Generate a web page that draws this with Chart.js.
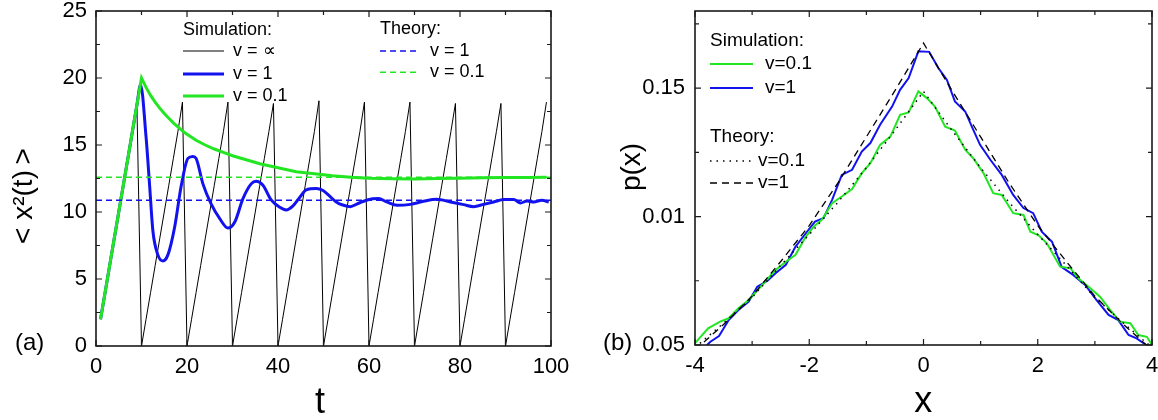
<!DOCTYPE html>
<html>
<head>
<meta charset="utf-8">
<script src="https://cdn.jsdelivr.net/npm/chart.js@4.4.1/dist/chart.umd.min.js"></script>
<style>
  html, body { margin: 0; padding: 0; background: #fff; }
  #wrap { position: relative; width: 1158px; height: 420px; overflow: hidden; }
  canvas { position: absolute; top: 0; }
  #left { left: 0; }
  #right { left: 580px; }
</style>
</head>
<body>
<div id="wrap">
  <canvas id="left" width="580" height="420"></canvas>
  <canvas id="right" width="578" height="420"></canvas>
</div>
<script>
// ---- panel (a): <x^2(t)> vs t ----
// v = infinity, one value per time step t = 1..99
const infValues = [
  2, 4, 6, 8, 10, 12, 14, 16, 17.9,
  0, 2, 4, 6, 8, 10, 12, 14, 16, 18.2,
  0, 2, 4, 6, 8, 10, 12, 14, 16, 18.2,
  0, 2, 4, 6, 8, 10, 12, 14, 16, 18.1,
  0, 2, 4, 6, 8, 10, 12, 14, 16, 18.3,
  0, 2, 4, 6, 8, 10, 12, 14, 16, 18.2,
  0, 2, 4, 6, 8, 10, 12, 14, 16, 18.2,
  0, 2, 4, 6, 8, 10, 12, 14, 16, 18.1,
  0, 2, 4, 6, 8, 10, 12, 14, 16, 18.1,
  0, 2, 4, 6, 8, 10, 12, 14, 16, 18.2
];
const simV1T = [1, 2, 3, 4, 5, 6, 7, 8, 9, 9.8, 11, 11.8, 12.5, 13.6, 14.7, 15.8, 17.3, 18.7, 20.2, 21.3, 22,
  23.5, 25.3, 27.2, 29, 30.5, 32.3, 34.1, 35.2, 36.7, 38.5, 40.4, 41.8, 43.3, 44.8, 46.2, 48.4, 49.9, 51.3,
  52.8, 54.4, 55.9, 57.4, 59.6, 62.1, 63.9, 66.2, 69.1, 72, 74.9, 77.9, 80.8, 83, 85.2, 87.4, 89.6, 91.8,
  93.3, 94.7, 96.2, 98, 99.5];
const simV1 = [2, 4, 6, 8, 10, 12, 14, 16, 18, 19.5, 15.6, 11.9, 8.6, 6.8, 6.35, 6.8, 8.9, 11.9, 14.0, 14.15, 14.0,
  12.1, 10.6, 9.5, 8.8, 9.25, 11.0, 12.1, 12.3, 12.0, 10.9, 10.35, 10.15, 10.45, 11.1, 11.65, 11.75, 11.6, 11.2,
  10.75, 10.5, 10.4, 10.6, 10.9, 11.0, 10.75, 10.5, 10.57, 10.8, 10.95, 10.75, 10.55, 10.4, 10.57, 10.75, 10.93, 10.93,
  10.67, 10.82, 10.75, 10.87, 10.75];
const simV01T = [1, 2, 3, 4, 5, 6, 7, 8, 9, 10, 11, 12, 13, 14, 15, 16, 17, 18, 19, 20, 22, 24, 26, 28, 30,
  33, 36, 40, 44, 48, 52, 56, 60, 65, 70, 75, 80, 85, 90, 95, 99];
const simV01 = [2, 4, 6, 8, 10, 12, 14, 16, 18, 20, 19.3, 18.7, 18.2, 17.75, 17.35, 17.0, 16.65, 16.35, 16.05, 15.8,
  15.35, 15.0, 14.7, 14.45, 14.2, 13.9, 13.6, 13.3, 13.0, 12.85, 12.7, 12.6, 12.52, 12.48, 12.47, 12.5, 12.52,
  12.55, 12.57, 12.58, 12.6];
const theoryT = [0, 100];
const theoryV1 = [10.87, 10.87];
const theoryV01 = [12.6, 12.6];

const aXTicks = [0, 10, 20, 30, 40, 50, 60, 70, 80, 90, 100];
const aXLabels = ['0', '', '20', '', '40', '', '60', '', '80', '', '100'];
const aYTicks = [0, 2.5, 5, 7.5, 10, 12.5, 15, 17.5, 20, 22.5, 25];
const aYLabels = ['0', '', '5', '', '10', '', '15', '', '20', '', '25'];

// ---- panel (b): p(x) vs x ----
const pxV01X = [-4, -3.77, -3.56, -3.41, -3.24, -3.06, -2.89, -2.59, -2.41, -2.24, -2.06, -1.92, -1.78, -1.6, -1.43,
  -1.25, -1.08, -0.93, -0.76, -0.58, -0.41, -0.26, -0.09, 0.06, 0.2, 0.38, 0.55, 0.73, 0.87, 1.05, 1.22, 1.37,
  1.57, 1.75, 1.87, 2.01, 2.16, 2.39, 2.57, 2.71, 2.92, 3.09, 3.27, 3.44, 3.62, 3.76, 3.91, 4];
const pxV01 = [0.0507, 0.0565, 0.0591, 0.0604, 0.0643, 0.0675, 0.0717, 0.0792, 0.0824, 0.0851, 0.0922, 0.0961,
  0.0987, 0.1052, 0.1078, 0.1107, 0.1169, 0.1208, 0.1279, 0.1311, 0.1396, 0.1405, 0.1487, 0.1461, 0.1428, 0.135,
  0.1335, 0.126, 0.1227, 0.1169, 0.1091, 0.1084, 0.1013, 0.1006, 0.0941, 0.0928, 0.0896, 0.0805, 0.0799, 0.076,
  0.0721, 0.0688, 0.0636, 0.0591, 0.0585, 0.0539, 0.0532, 0.05];
const pxV1X = [-3.79, -3.73, -3.58, -3.41, -3.24, -3.06, -2.91, -2.73, -2.59, -2.41, -2.24, -2.06, -1.9, -1.75, -1.6,
  -1.43, -1.25, -1.08, -0.93, -0.76, -0.55, -0.41, -0.26, -0.09, 0.1, 0.26, 0.41, 0.55, 0.73, 0.87, 0.99, 1.17,
  1.37, 1.57, 1.75, 1.92, 2.07, 2.25, 2.42, 2.62, 2.83, 3.03, 3.24, 3.41, 3.59, 3.73, 3.9];
const pxV1 = [0.05, 0.0513, 0.0535, 0.0597, 0.0636, 0.0669, 0.0727, 0.075, 0.0779, 0.0812, 0.0883, 0.0935, 0.098,
  0.0994, 0.1065, 0.1162, 0.1182, 0.1253, 0.1286, 0.1357, 0.1428, 0.1493, 0.1539, 0.1643, 0.1641, 0.1578, 0.1532,
  0.1448, 0.1409, 0.1338, 0.1279, 0.1221, 0.1162, 0.1084, 0.1033, 0.1013, 0.0941, 0.0902, 0.0803, 0.0773, 0.0734,
  0.0675, 0.0617, 0.0597, 0.0539, 0.0526, 0.05];
const theoryX = [-4, -3.5, -3, -2.5, -2, -1.5, -1, -0.5, 0, 0.5, 1, 1.5, 2, 2.5, 3, 3.5, 4];
const theoryP01 = [0.049, 0.0585, 0.0685, 0.081, 0.093, 0.1055, 0.119, 0.1335, 0.1487, 0.1335, 0.119, 0.1055,
  0.093, 0.081, 0.0685, 0.0585, 0.049];
const theoryP1 = [0.048, 0.058, 0.069, 0.0825, 0.0965, 0.113, 0.131, 0.149, 0.1675, 0.149, 0.131, 0.113, 0.0965,
  0.0825, 0.069, 0.058, 0.048];

const bXTicks = [-4, -3, -2, -1, 0, 1, 2, 3, 4];
const bXLabels = ['-4', '', '-2', '', '0', '', '2', '', '4'];
const bYTicks = [0.05, 0.075, 0.1, 0.125, 0.15, 0.175];
const bYLabels = ['0.05', '', '0.01', '', '0.15', ''];

const FONT = '"Liberation Sans", Arial, Helvetica, sans-serif';
const BLUE = '#1212ee';
const GREEN = '#22e622';

const pts = (xs, ys) => xs.map((x, i) => ({ x: x, y: ys[i] }));

function setTicks(vals) {
  return scale => { scale.ticks = vals.map(v => ({ value: v })); };
}

function axis(min, max, vals, labels, pad, fitFn) {
  return {
    type: 'linear', min: min, max: max,
    grid: { display: false, drawTicks: false },
    border: { display: false },
    afterBuildTicks: setTicks(vals),
    afterFit: fitFn,
    ticks: {
      autoSkip: false, maxRotation: 0, padding: pad, color: '#000',
      font: { family: FONT, size: 22 },
      callback: (v, i) => labels[i]
    }
  };
}

// frame around plot area + inward ticks on all four sides
const frameTicks = {
  id: 'frameTicks',
  afterDatasetsDraw(chart) {
    const { ctx, chartArea: a, scales } = chart;
    ctx.save();
    ctx.strokeStyle = '#1a1a1a';
    ctx.lineWidth = 1.2;
    ctx.beginPath();
    scales.x.ticks.forEach(t => {
      const px = scales.x.getPixelForValue(t.value);
      const len = t.label ? 6 : 4;
      ctx.moveTo(px, a.bottom); ctx.lineTo(px, a.bottom - len);
      ctx.moveTo(px, a.top); ctx.lineTo(px, a.top + len);
    });
    scales.y.ticks.forEach(t => {
      const py = scales.y.getPixelForValue(t.value);
      const len = t.label ? 6 : 4;
      ctx.moveTo(a.left, py); ctx.lineTo(a.left + len, py);
      ctx.moveTo(a.right, py); ctx.lineTo(a.right - len, py);
    });
    ctx.stroke();
    ctx.lineWidth = 1.6;
    ctx.strokeRect(a.left, a.top, a.right - a.left, a.bottom - a.top);
    ctx.restore();
  }
};

// in-plot legend with headers, axis titles and the panel letter
function decor(cfg) {
  return {
    id: 'decor',
    afterDraw(chart) {
      const { ctx, chartArea: a } = chart;
      const ds = chart.data.datasets;
      ctx.save();
      ctx.fillStyle = '#000';
      ctx.textAlign = 'left';
      ctx.textBaseline = 'middle';
      cfg.legend.forEach(g => {
        ctx.font = g.font;
        const x0 = a.left + g.dx;
        ctx.fillText(g.title, x0, a.top + g.dy);
        g.rows.forEach((idx, i) => {
          const d = ds[idx];
          const y = a.top + g.rowY[i];
          ctx.strokeStyle = d.borderColor;
          ctx.lineWidth = d.borderWidth;
          ctx.setLineDash(d.borderDash || []);
          ctx.beginPath();
          ctx.moveTo(x0, y);
          ctx.lineTo(x0 + g.sample, y);
          ctx.stroke();
          ctx.setLineDash([]);
          ctx.fillText(d.label, x0 + g.textGap, y);
        });
      });
      // panel letter
      ctx.font = '24px ' + FONT;
      ctx.fillText(cfg.panel, cfg.panelX, cfg.panelY);
      // x title
      ctx.textAlign = 'center';
      ctx.textBaseline = 'alphabetic';
      ctx.font = '36px ' + FONT;
      ctx.fillText(cfg.xTitle, cfg.xTitleX, cfg.xTitleY);
      // y title, rotated
      ctx.translate(cfg.yTitleX, cfg.yTitleY);
      ctx.rotate(-Math.PI / 2);
      ctx.textBaseline = 'middle';
      ctx.font = cfg.yTitleFont;
      ctx.fillText(cfg.yTitle, 0, 0);
      ctx.restore();
    }
  };
}

const common = {
  responsive: false,
  animation: false,
  devicePixelRatio: 1,
  plugins: { legend: { display: false }, tooltip: { enabled: false } },
  elements: { point: { radius: 0 } }
};

new Chart(document.getElementById('left'), {
  type: 'line',
  data: {
    datasets: [
      { label: 'v = 1', data: pts(theoryT, theoryV1), borderColor: BLUE, borderWidth: 1.5, borderDash: [6, 4] },
      { label: 'v = 0.1', data: pts(theoryT, theoryV01), borderColor: GREEN, borderWidth: 1.5, borderDash: [6, 4] },
      { label: 'v = 0.1', data: pts(simV01T, simV01), borderColor: GREEN, borderWidth: 3 },
      { label: 'v = 1', data: pts(simV1T, simV1), borderColor: BLUE, borderWidth: 3, cubicInterpolationMode: 'monotone' },
      { label: 'v = \u221D', data: infValues.map((v, i) => ({ x: i + 1, y: v })), borderColor: '#000', borderWidth: 1 }
    ]
  },
  options: Object.assign({}, common, {
    layout: { padding: { top: 11, right: 29, left: 0, bottom: 0 } },
    scales: {
      x: axis(0, 100, aXTicks, aXLabels, 8, s => { s.height = 74; s.paddingLeft = 0; s.paddingRight = 0; }),
      y: axis(0, 25, aYTicks, aYLabels, 9, s => { s.width = 96; s.paddingTop = 0; s.paddingBottom = 0; })
    }
  }),
  plugins: [frameTicks, decor({
    legend: [
      { title: 'Simulation:', font: '18px ' + FONT, dx: 87, dy: 19, rows: [4, 3, 2], rowY: [40, 63, 85], sample: 41, textGap: 50 },
      { title: 'Theory:', font: '18px ' + FONT, dx: 284, dy: 18.5, rows: [0, 1], rowY: [40, 61.3], sample: 40, textGap: 50 }
    ],
    panel: '(a)', panelX: 15, panelY: 343,
    xTitle: 't', xTitleX: 320, xTitleY: 413,
    yTitle: '< x\u00B2(t)\u2009>', yTitleX: 24, yTitleY: 196, yTitleFont: '28px ' + FONT
  })]
});

new Chart(document.getElementById('right'), {
  type: 'line',
  data: {
    datasets: [
      { label: 'v=0.1', data: pts(theoryX, theoryP01), borderColor: '#000', borderWidth: 1.5, borderDash: [1.5, 5] },
      { label: 'v=1', data: pts(theoryX, theoryP1), borderColor: '#000', borderWidth: 1.3, borderDash: [7, 5] },
      { label: 'v=0.1', data: pts(pxV01X, pxV01), borderColor: GREEN, borderWidth: 2 },
      { label: 'v=1', data: pts(pxV1X, pxV1), borderColor: BLUE, borderWidth: 2 }
    ]
  },
  options: Object.assign({}, common, {
    layout: { padding: { top: 11, right: 6, left: 0, bottom: 0 } },
    scales: {
      x: axis(-4, 4, bXTicks, bXLabels, 8, s => { s.height = 75; s.paddingLeft = 0; s.paddingRight = 0; }),
      y: axis(0.05, 0.18, bYTicks, bYLabels, 10, s => { s.width = 115; s.paddingTop = 0; s.paddingBottom = 0; })
    }
  }),
  plugins: [frameTicks, decor({
    legend: [
      { title: 'Simulation:', font: '19px ' + FONT, dx: 15, dy: 30, rows: [2, 3], rowY: [53, 77], sample: 43, textGap: 55 },
      { title: 'Theory:', font: '19px ' + FONT, dx: 15, dy: 126, rows: [0, 1], rowY: [150, 172], sample: 43, textGap: 48 }
    ],
    panel: '(b)', panelX: 23, panelY: 343,
    xTitle: 'x', xTitleX: 343.3, xTitleY: 412,
    yTitle: 'p(x)', yTitleX: 52, yTitleY: 167, yTitleFont: '28px ' + FONT
  })]
});
</script>
</body>
</html>
